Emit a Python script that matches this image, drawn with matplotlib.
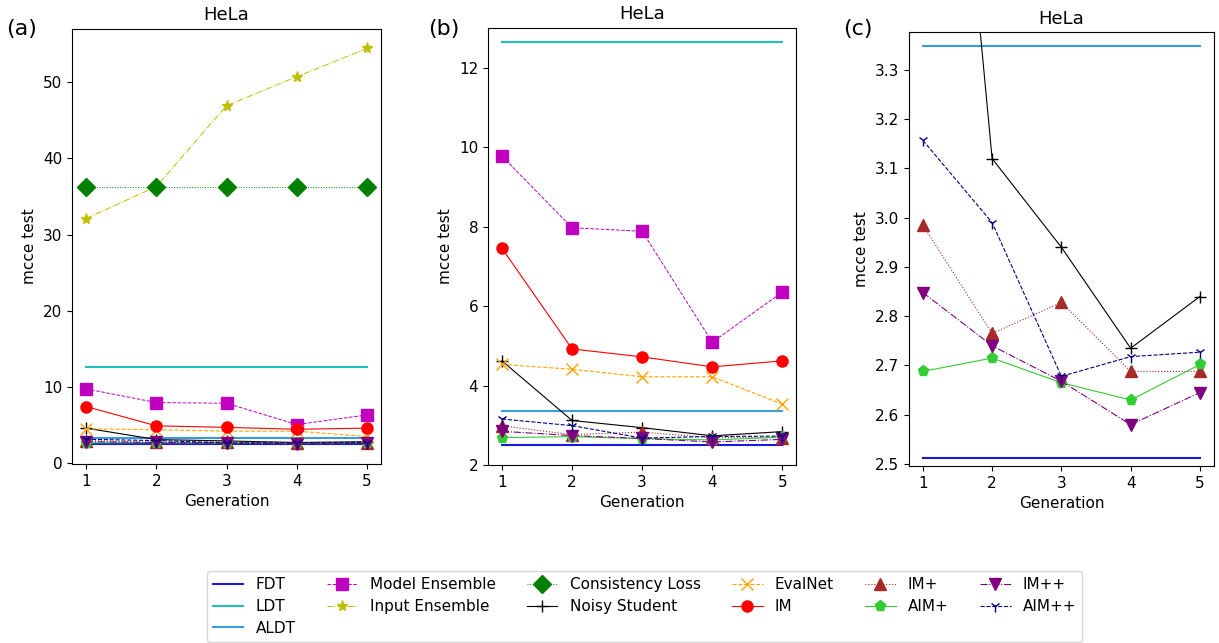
import matplotlib
matplotlib.use('Agg')
import matplotlib.pyplot as plt

# x axis
generations = [1, 2, 3, 4, 5]

# constant baselines
fdt = 2.512
ldt = 12.63
aldt = 3.348

# per-generation results
model_ensemble = [9.77, 7.97, 7.88, 5.09, 6.35]
input_ensemble = [32.1, 36.3, 46.9, 50.7, 54.4]
consistency_loss = [36.25, 36.25, 36.25, 36.25, 36.25]
noisy_student = [4.62, 3.12, 2.94, 2.735, 2.84]
evalnet = [4.53, 4.41, 4.22, 4.22, 3.53]
im = [7.45, 4.92, 4.72, 4.47, 4.62]
im_plus = [2.985, 2.765, 2.828, 2.688, 2.688]
aim_plus = [2.688, 2.715, 2.665, 2.630, 2.702]
im_pp = [2.848, 2.740, 2.668, 2.580, 2.645]
aim_pp = [3.157, 2.990, 2.678, 2.718, 2.727]

panel_labels = ['(a)', '(b)', '(c)']
label_x = [0.005, 0.351, 0.6916]

# y limits per panel (a auto)
ylims = [None, (2.0, 13.0), (2.496, 3.377)]

plt.rcParams['font.size'] = 11

fig = plt.figure(figsize=(12.19, 6.43), dpi=100)
rects = [
    [0.0591, 0.2784, 0.2535, 0.677],
    [0.4003, 0.2768, 0.2530, 0.680],
    [0.7457, 0.2753, 0.2500, 0.675],
]

for k, rect in enumerate(rects):
    ax = fig.add_axes(rect)
    ax.plot(generations, [fdt] * 5, color='#1a1adb', lw=1.5, label='FDT')
    ax.plot(generations, [ldt] * 5, color='#1fbfbf', lw=1.5, label='LDT')
    ax.plot(generations, [aldt] * 5, color='#3a9ae0', lw=1.5, label='ALDT')
    if k < 2:
        ax.plot(generations, model_ensemble, color='m', ls='--', lw=0.7,
                marker='s', ms=8, label='Model Ensemble')
        ax.plot(generations, input_ensemble, color='y', ls='-.', lw=0.7,
                marker='*', ms=8, label='Input Ensemble')
        ax.plot(generations, consistency_loss, color='g', ls=':', lw=0.7,
                marker='D', ms=9, label='Consistency Loss')
    ax.plot(generations, noisy_student, color='k', ls='-', lw=0.8,
            marker='+', ms=8, label='Noisy Student')
    if k < 2:
        ax.plot(generations, evalnet, color='orange', ls='--', lw=0.8,
                marker='x', ms=8, label='EvalNet')
        ax.plot(generations, im, color='r', ls='-', lw=0.8,
                marker='o', ms=8, label='IM')
    ax.plot(generations, im_plus, color='brown', ls=':', lw=0.8,
            marker='^', ms=8, label='IM+')
    ax.plot(generations, aim_plus, color='#33cc33', ls='-', lw=0.8,
            marker='p', ms=8, label='AIM+')
    ax.plot(generations, im_pp, color='purple', ls='-.', lw=0.8,
            marker='v', ms=8, label='IM++')
    ax.plot(generations, aim_pp, color='navy', ls='--', lw=0.8,
            marker='1', ms=8, label='AIM++')

    if ylims[k] is not None:
        ax.set_ylim(*ylims[k])
    ax.set_xticks(generations)
    ax.set_xlabel('Generation')
    ax.set_ylabel('mcce test')
    ax.set_title('HeLa', fontsize=13)
    fig.text(label_x[k], 0.945, panel_labels[k], fontsize=16)
    if k == 0:
        handles, labels = ax.get_legend_handles_labels()

# legend order
order = ['FDT', 'LDT', 'ALDT', 'Model Ensemble', 'Input Ensemble',
         'Consistency Loss', 'Noisy Student', 'EvalNet', 'IM',
         'IM+', 'AIM+', 'IM++', 'AIM++']
hmap = dict(zip(labels, handles))
fig.legend([hmap[o] for o in order], order, loc='upper center',
           bbox_to_anchor=(0.5287, 0.112), ncol=6, fontsize=11,
           columnspacing=2.05, handlelength=2, borderaxespad=0,
           labelspacing=0.45)

fig.savefig('out.png', dpi=100)
